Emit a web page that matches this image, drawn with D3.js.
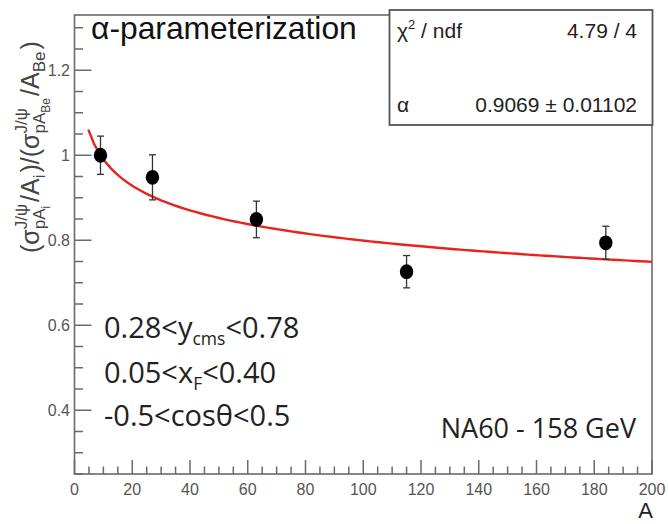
<!DOCTYPE html>
<html><head><meta charset="utf-8">
<script src="https://cdn.jsdelivr.net/npm/d3@7"></script>
<style>html,body{margin:0;padding:0;background:#fff;} svg{display:block;}</style>
</head><body>
<svg id="c" width="668" height="524"></svg>
<script>
// ---- data ----
const massNumbers = [9, 27, 63, 115, 184];          // A (Be, Al, Cu, In, W)
const ratioValues = [1.0, 0.948, 0.849, 0.726, 0.794];
const ratioErrors = [0.045, 0.053, 0.043, 0.038, 0.039];
const fitAlpha = 0.9069;                            // fitted alpha
const fitRange = [4.8, 200];
const xTickValues = [0,20,40,60,80,100,120,140,160,180,200];
const yTickValues = [0.4,0.6,0.8,1.0,1.2];
const yTickLabels = ["0.4","0.6","0.8","1","1.2"];
const statLabels = ["χ² / ndf", "α"];
const statValues = ["4.79 / 4", "0.9069 ± 0.01102"];
const cutLines = ["0.28<y_cms<0.78", "0.05<x_F<0.40", "-0.5<cosθ<0.5"];

const svg = d3.select("#c");
const x = d3.scaleLinear().domain([0,200]).range([74.5,652]);
const y = d3.scaleLinear().domain([0.25,1.33]).range([474,15]);
const axisCol = "#6a6a6a", labCol = "#555";

// frame
svg.append("rect").attr("x",x(0)).attr("y",y(1.33)).attr("width",x(200)-x(0)).attr("height",y(0.25)-y(1.33))
  .attr("fill","none").attr("stroke",axisCol).attr("stroke-width",1.6);

// x axis ticks
const xAx = svg.append("g");
const xMinor = d3.range(0,201,5);
xAx.selectAll("line").data(xMinor).join("line")
  .attr("x1",d=>x(d)).attr("x2",d=>x(d)).attr("y1",y(0.25)).attr("y2",d=>y(0.25)-(d%20===0?14:7.5))
  .attr("stroke",axisCol).attr("stroke-width",1.5);
xAx.selectAll("text").data(xTickValues).join("text")
  .attr("x",d=>x(d)).attr("y",495).attr("text-anchor","middle")
  .attr("font-family","Liberation Sans, Arial, sans-serif").attr("font-size",16).attr("fill",labCol)
  .text(d=>d);

// y axis ticks
const yAx = svg.append("g");
const yMinor = d3.range(0,22).map(i=>+(0.25+i*0.05).toFixed(2));
yAx.selectAll("line").data(yMinor).join("line")
  .attr("x1",x(0)).attr("x2",d=>x(0)+(Math.round(d*100)%20===0?17:8.5)).attr("y1",d=>y(d)).attr("y2",d=>y(d))
  .attr("stroke",axisCol).attr("stroke-width",1.5);
yAx.selectAll("text").data(yTickValues).join("text")
  .attr("x",70).attr("y",d=>y(d)+5.5).attr("text-anchor","end")
  .attr("font-family","Liberation Sans, Arial, sans-serif").attr("font-size",16).attr("fill",labCol)
  .text((d,i)=>yTickLabels[i]);

// x axis title
svg.append("text").attr("x",653).attr("y",518).attr("text-anchor","end")
  .attr("font-family","Liberation Sans, Arial, sans-serif").attr("font-size",22).attr("fill","#222").text("A");

// y axis title (rotated, laid out piecewise)
(function(){
  const g = svg.append("g").attr("transform","translate(39,253) rotate(-90)");
  const F = "Liberation Sans, Arial, sans-serif", col = "#444";
  let cx = 0;
  function put(t, size, dy, atX){
    const el = g.append("text").attr("x",atX).attr("y",dy).attr("font-family",F).attr("font-size",size).attr("fill",col).text(t);
    return el.node().getComputedTextLength();
  }
  function main(t){ cx += put(t,25,0,cx); }
  function sigma(subsub){
    cx += put("σ",25,0,cx);
    const w1 = put("J/ψ",17,-12,cx);
    const w2 = put("pA",17,6,cx);
    const w3 = put(subsub,12,11,cx+w2);
    cx += Math.max(w1, w2+w3) + 2;
  }
  main("("); sigma("i"); main("/A"); cx += put("i",17,6,cx)+2;
  main(")/("); sigma("Be"); main("/A"); cx += put("Be",17,6,cx)+2;
  main(")");
})();

// fit curve
const fitXs = d3.range(0,101).map(i=>fitRange[0]+(fitRange[1]-fitRange[0])*i/100);
svg.append("path").datum(fitXs)
  .attr("d", d3.line().x(a=>x(a)).y(a=>y(Math.pow(a/massNumbers[0], fitAlpha-1))))
  .attr("fill","none").attr("stroke","#e8231f").attr("stroke-width",2.4);

// data points with error bars
const pts = massNumbers.map((a,i)=>({a, v:ratioValues[i], e:ratioErrors[i]}));
const pg = svg.append("g");
pg.selectAll("line.eb").data(pts).join("line").attr("class","eb")
  .attr("x1",d=>x(d.a)).attr("x2",d=>x(d.a)).attr("y1",d=>y(d.v+d.e)).attr("y2",d=>y(d.v-d.e))
  .attr("stroke","#333").attr("stroke-width",1.3);
["+","-"].forEach(s=>{
  pg.selectAll("line.cap"+(s==="+"?"p":"m")).data(pts).join("line").attr("class","cap"+(s==="+"?"p":"m"))
    .attr("x1",d=>x(d.a)-3.5).attr("x2",d=>x(d.a)+3.5)
    .attr("y1",d=>y(s==="+"?d.v+d.e:d.v-d.e)).attr("y2",d=>y(s==="+"?d.v+d.e:d.v-d.e))
    .attr("stroke","#333").attr("stroke-width",1.3);
});
pg.selectAll("ellipse").data(pts).join("ellipse")
  .attr("cx",d=>x(d.a)).attr("cy",d=>y(d.v)).attr("rx",6.7).attr("ry",7.4).attr("fill","#000");

// stat box
svg.append("rect").attr("x",389.5).attr("y",10).attr("width",263).attr("height",115)
  .attr("fill","#fff").attr("stroke","#555").attr("stroke-width",1.8);
const sF = "Liberation Sans, Arial, sans-serif";
const s1 = svg.append("text").attr("x",397).attr("y",38).attr("font-family",sF).attr("font-size",21).attr("fill","#222");
s1.append("tspan").text("χ");
s1.append("tspan").attr("font-size",13).attr("dy",-9).text("2");
s1.append("tspan").attr("dy",9).text(" / ndf");
svg.append("text").attr("x",397).attr("y",112).attr("font-family",sF).attr("font-size",21).attr("fill","#222").text(statLabels[1]);
svg.selectAll("text.sv").data(statValues).join("text").attr("class","sv")
  .attr("x",637).attr("y",(d,i)=>i===0?38:112).attr("text-anchor","end")
  .attr("font-family",sF).attr("font-size",21).attr("fill","#222").text(d=>d);

// title-like label
svg.append("text").attr("x",91).attr("y",39).attr("font-family",sF).attr("font-size",31.8).attr("fill","#111")
  .text("α-parameterization");

// cut annotations
const aF = "Open Sans, sans-serif";
const ys = [338, 383, 426];
cutLines.forEach((s,i)=>{
  const t = svg.append("text").attr("x",104).attr("y",ys[i]).attr("font-family",aF).attr("font-size",29).attr("fill","#222");
  const m = s.match(/^(.*?)_(\w+)(<.*)$/);
  if(m){
    t.append("tspan").text(m[1]);
    t.append("tspan").attr("font-size",17.5).attr("dy",7).text(m[2]);
    t.append("tspan").attr("dy",-7).text(m[3]);
  } else t.text(s);
});
svg.append("text").attr("x",636).attr("y",438).attr("text-anchor","end").attr("font-family",aF)
  .attr("font-size",27).attr("fill","#222").text("NA60 - 158 GeV");
</script>
</body></html>
